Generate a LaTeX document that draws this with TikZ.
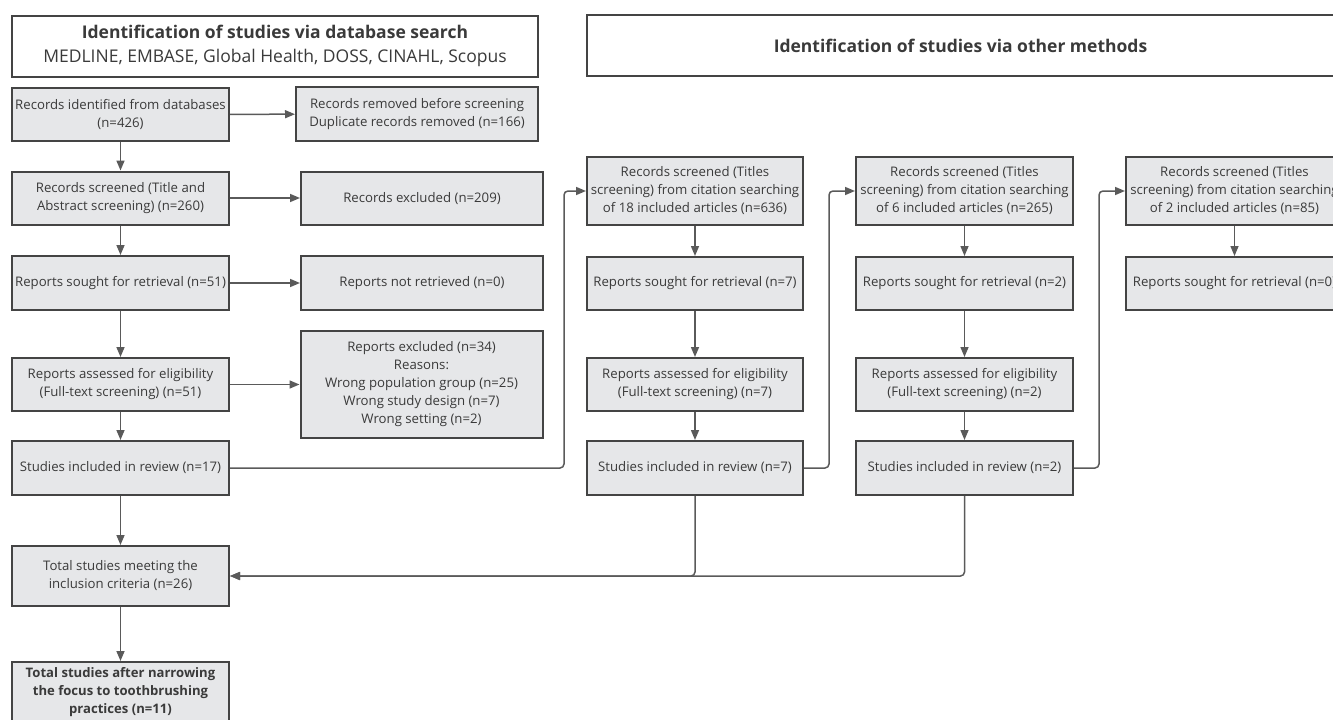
\documentclass[tikz,border=0pt]{standalone}
\usepackage{fontspec}
\setmainfont{Open Sans}
\usetikzlibrary{arrows.meta}
\definecolor{boxfill}{HTML}{E6E7E9}
\definecolor{boxline}{HTML}{444444}
\definecolor{linkline}{HTML}{5A5A5A}
\definecolor{txt}{HTML}{3A3A3A}
\tikzset{
  box/.style={draw=boxline,line width=2pt,fill=boxfill,text=txt,align=center,inner sep=2pt,
    font=\fontsize{13.2}{18}\selectfont,minimum width=217pt,minimum height=53pt},
  side/.style={box,minimum width=242pt},
  hdr/.style={draw=boxline,line width=2pt,fill=white,text=txt,align=center,
    font=\fontsize{17.5}{24}\selectfont,minimum height=61pt},
  link/.style={draw=linkline,line width=1.5pt,rounded corners=4pt,-{Triangle[length=10pt,width=8pt]}},
}

\begin{document}
\begin{tikzpicture}[x=1pt,y=-1pt]
\useasboundingbox (0,0) rectangle (1333,720);
% headers
\node[hdr,minimum width=526pt] (hdb) at (275,46) {\textbf{Identification of studies via database search}\\MEDLINE, EMBASE, Global Health, DOSS, CINAHL, Scopus};
\node[hdr,minimum width=747pt] (hot) at (960.5,45.5) {\textbf{Identification of studies via other methods}};
% database search column
\node[box] (a1) at (120.5,114.5) {Records identified from databases\\(n=426)};
\node[box] (a2) at (120.5,198) {Records screened (Title and\\Abstract screening) (n=260)};
\node[box,minimum height=54pt] (a3) at (120.5,283) {Reports sought for retrieval (n=51)};
\node[box] (a4) at (120.5,384.5) {Reports assessed for eligibility\\(Full-text screening) (n=51)};
\node[box,minimum height=54pt] (a5) at (120.5,468) {Studies included in review (n=17)};
\node[box,minimum height=60pt] (a6) at (120.5,576) {Total studies meeting the\\inclusion criteria (n=26)};
\node[box,minimum height=60pt,font=\fontsize{13.1}{18}\selectfont\bfseries] (a7) at (120.5,692) {Total studies after narrowing\\the focus to toothbrushing\\practices (n=11)};
% exclusions
\node[side,minimum height=54pt] (b1) at (417,114) {Records removed before screening\\Duplicate records removed (n=166)};
\node[side] (b2) at (422,198.5) {Records excluded (n=209)};
\node[side,minimum height=54pt] (b3) at (422,283) {Reports not retrieved (n=0)};
\node[side,minimum height=107pt] (b4) at (421.5,384.5) {Reports excluded (n=34)\\Reasons:\\Wrong population group (n=25)\\Wrong study design (n=7)\\Wrong setting (n=2)};
% citation searching, round 1
\node[box,minimum width=216pt,minimum height=68pt] (c1) at (695,191) {Records screened (Titles\\screening) from citation searching\\of 18 included articles (n=636)};
\node[box,minimum width=216pt] (c2) at (695,283.5) {Reports sought for retrieval (n=7)};
\node[box,minimum width=216pt] (c3) at (695,384.5) {Reports assessed for eligibility\\(Full-text screening) (n=7)};
\node[box,minimum width=216pt,minimum height=54pt] (c4) at (695,468) {Studies included in review (n=7)};
% citation searching, round 2
\node[box,minimum height=68pt] (d1) at (964.5,191) {Records screened (Titles\\screening) from citation searching\\of 6 included articles (n=265)};
\node[box] (d2) at (964.5,283.5) {Reports sought for retrieval (n=2)};
\node[box] (d3) at (964.5,384.5) {Reports assessed for eligibility\\(Full-text screening) (n=2)};
\node[box,minimum height=54pt] (d4) at (964.5,468) {Studies included in review (n=2)};
% citation searching, round 3 (runs past the right edge)
\node[box,minimum height=68pt] (e1) at (1234.5,191) {Records screened (Titles\\screening) from citation searching\\of 2 included articles (n=85)};
\node[box] (e2) at (1234.5,283.5) {Reports sought for retrieval (n=0)};
% bends of the loop connectors
\coordinate (j1) at (564,0);
\coordinate (j2) at (829,0);
\coordinate (j3) at (1099,0);
% connectors
\draw[link] (a1) -- (a2);
\draw[link] (a2) -- (a3);
\draw[link] (a3) -- (a4);
\draw[link] (a4) -- (a5);
\draw[link] (a5) -- (a6);
\draw[link] (a6) -- (a7);
\draw[link] (a1) -- (b1);
\draw[link] (a2.east) -- (a2.east -| b2.west);
\draw[link] (a3) -- (b3);
\draw[link] (a4) -- (b4);
\draw[link] (c1) -- (c2);
\draw[link] (c2) -- (c3);
\draw[link] (c3) -- (c4);
\draw[link] (d1) -- (d2);
\draw[link] (d2) -- (d3);
\draw[link] (d3) -- (d4);
\draw[link] (e1) -- (e2);
\draw[link] (a5.east) -- (a5.east -| j1) -- (j1 |- c1.west) -- (c1.west);
\draw[link] (c4.east) -- (c4.east -| j2) -- (j2 |- d1.west) -- (d1.west);
\draw[link] (d4.east) -- (d4.east -| j3) -- (j3 |- e1.west) -- (e1.west);
\draw[link] (c4.south) |- (a6.east);
\draw[link] (d4.south) |- (a6.east);
\end{tikzpicture}
\end{document}
